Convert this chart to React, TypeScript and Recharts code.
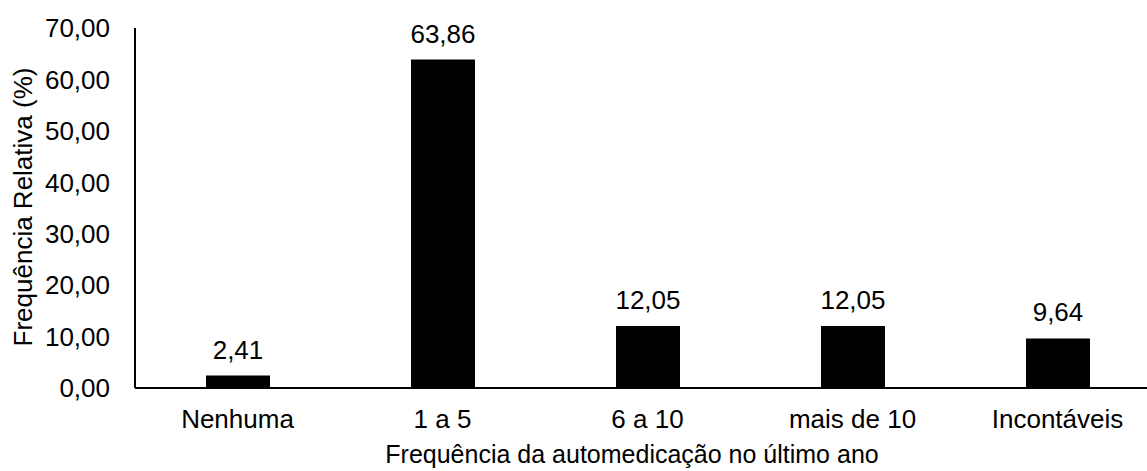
import { BarChart, Bar, XAxis, YAxis, LabelList, Label } from 'recharts';

const categories = ['Nenhuma', '1 a 5', '6 a 10', 'mais de 10', 'Incontáveis'];
const values = [2.41, 63.86, 12.05, 12.05, 9.64];
const yTicks = [0, 10, 20, 30, 40, 50, 60, 70];

const data = categories.map((name, i) => ({ name, value: values[i] }));

const FONT = 'Liberation Sans, Arial, sans-serif';
const fmt = (v: number) => v.toFixed(2).replace('.', ',');

export default function App() {
  return (
    <div style={{ position: 'fixed', top: 0, left: 0, width: 1147, height: 471, overflow: 'hidden', background: '#fff' }}>
      <BarChart
        width={1160}
        height={471}
        data={data}
        margin={{ top: 28, right: 0, bottom: 0, left: 0 }}
        style={{ fontFamily: FONT }}
      >
        <XAxis
          dataKey="name"
          height={83}
          tickLine={false}
          tickSize={0}
          tickMargin={22}
          axisLine={{ stroke: '#000', strokeWidth: 2 }}
          tick={{ fill: '#000', fontSize: 26, fontFamily: FONT }}
          interval={0}
        >
          <Label
            content={({ viewBox }: any) => (
              <text
                x={632}
                y={viewBox.y + 75}
                textAnchor="middle"
                fontSize={25}
                fontFamily={FONT}
                fill="#000"
              >
                Frequência da automedicação no último ano
              </text>
            )}
          />
        </XAxis>
        <YAxis
          width={135}
          domain={[0, 70]}
          ticks={yTicks}
          tickFormatter={fmt}
          tickLine={false}
          tickSize={0}
          tickMargin={25}
          axisLine={{ stroke: '#000', strokeWidth: 2 }}
          tick={{ fill: '#000', fontSize: 26, fontFamily: FONT }}
          interval={0}
        >
          <Label
            content={({ viewBox }: any) => {
              const cx = 23;
              const cy = viewBox.y + viewBox.height / 2 - 1;
              return (
                <text
                  x={cx}
                  y={cy}
                  transform={`rotate(-90 ${cx} ${cy})`}
                  textAnchor="middle"
                  dominantBaseline="central"
                  fontSize={26}
                  fontFamily={FONT}
                  fill="#000"
                >
                  Frequência Relativa (%)
                </text>
              );
            }}
          />
        </YAxis>
        <Bar dataKey="value" fill="#000" barSize={64} isAnimationActive={false}>
          <LabelList
            dataKey="value"
            position="top"
            offset={17}
            formatter={(v: any) => fmt(Number(v))}
            style={{ fill: '#000', fontSize: 26, fontFamily: FONT }}
          />
        </Bar>
      </BarChart>
    </div>
  );
}
